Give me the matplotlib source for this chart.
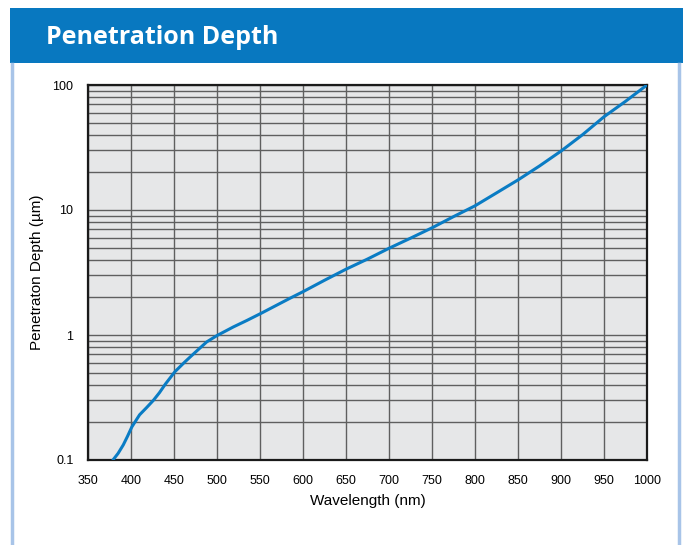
import matplotlib
matplotlib.use("Agg")
import matplotlib.pyplot as plt
from matplotlib.patches import Rectangle
from matplotlib.lines import Line2D
from matplotlib.ticker import FixedLocator, NullFormatter, LogLocator

# Data
wavelength_nm = [379, 385, 391, 396, 401, 410, 418, 426, 433, 440, 451, 462, 469, 475,
                 488, 500, 519, 535, 552, 585, 600, 625, 650, 675, 700, 725, 750,
                 775, 800, 825, 850, 875, 900, 925, 950, 975, 1000]
depth_um = [0.100, 0.113, 0.132, 0.155, 0.184, 0.230, 0.262, 0.300, 0.345, 0.405,
            0.508, 0.603, 0.669, 0.730, 0.880, 0.990, 1.16, 1.31, 1.50, 1.97, 2.22,
            2.74, 3.36, 4.05, 4.94, 5.95, 7.20, 8.85, 10.8, 13.7, 17.4, 22.5, 29.6,
            40.0, 55.7, 74.0, 100.0]

x_ticks = [350, 400, 450, 500, 550, 600, 650, 700, 750, 800, 850, 900, 950, 1000]
y_ticks = [0.1, 1, 10, 100]
y_tick_labels = ["0.1", "1", "10", "100"]

title = "Penetration Depth"
x_label = "Wavelength (nm)"
y_label = "Penetraton Depth (\u00b5m)"

W, H = 683, 545
fig = plt.figure(figsize=(W / 100, H / 100), dpi=100)
fig.patch.set_facecolor("white")

# Banner
fig.patches.append(Rectangle((10 / W, 1 - 63 / H), (W - 10) / W, 55 / H,
                             transform=fig.transFigure, facecolor="#0878c0",
                             edgecolor="none", zorder=0))
fig.text(46 / W, 1 - 44 / H, title, color="white", fontsize=18,
         fontweight="bold", family="Open Sans", va="baseline", ha="left")
# side borders
for xb in (12, 679):
    fig.lines.append(Line2D([xb / W, xb / W], [0, 1 - 64 / H], transform=fig.transFigure,
                            color="#a8c4e8", lw=2.5))

ax = fig.add_axes([88 / W, 1 - 460 / H, (647 - 88) / W, (460 - 85) / H])
ax.set_facecolor("#e6e7e8")
ax.set_yscale("log")
ax.set_xlim(350, 1000)
ax.set_ylim(0.1, 100)

ax.set_xticks(x_ticks)
ax.set_xticklabels([str(t) for t in x_ticks])
ax.yaxis.set_major_locator(FixedLocator(y_ticks))
ax.set_yticklabels(y_tick_labels)
ax.yaxis.set_minor_locator(LogLocator(base=10, subs=range(2, 10)))
ax.yaxis.set_minor_formatter(NullFormatter())

ax.grid(True, which="major", axis="both", color="#5f5f5f", lw=1.0)
ax.grid(True, which="minor", axis="y", color="#5f5f5f", lw=1.0)
ax.set_axisbelow(True)

ax.tick_params(which="both", length=0)
ax.tick_params(axis="x", pad=11, labelsize=9)
ax.tick_params(axis="y", pad=10.5, labelsize=9)
for lab in ax.get_xticklabels() + ax.get_yticklabels():
    lab.set_family("Liberation Sans")

for sp in ax.spines.values():
    sp.set_color("#1a1a1a")
    sp.set_linewidth(1.6)

ax.plot(wavelength_nm, depth_um, color="#0a7cc4", lw=2.2, solid_capstyle="round",
        clip_on=True, zorder=3)

ax.set_xlabel(x_label, fontsize=11, family="Liberation Sans", labelpad=5)
ax.set_ylabel(y_label, fontsize=11, family="Liberation Sans")
ax.yaxis.label.set_va("center")
ax.yaxis.set_label_coords((37 - 88) / (647 - 88), 0.5)

fig.savefig("out.png", dpi=100)
